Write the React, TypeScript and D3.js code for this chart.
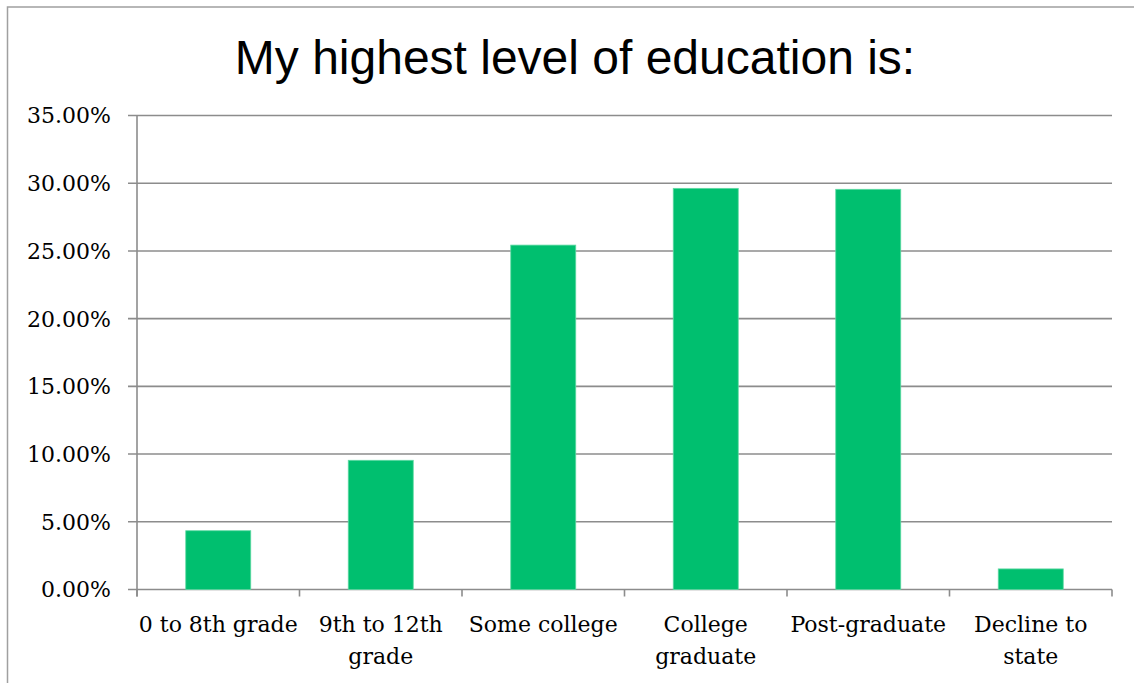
import React from 'react';
import { scaleLinear, scaleBand, range } from 'd3';

const categories: string[][] = [
  ['0 to 8th grade'],
  ['9th to 12th', 'grade'],
  ['Some college'],
  ['College', 'graduate'],
  ['Post-graduate'],
  ['Decline to', 'state'],
];
const shares: number[] = [4.34, 9.54, 25.43, 29.62, 29.55, 1.52];
const yTicks: number[] = [0, 5, 10, 15, 20, 25, 30, 35];

const width = 1134;
const height = 683;

const App: React.FC = () => {
  const left = 137;
  const right = 1112;
  const top = 115.5;
  const bottom = 589.5;

  const xScale = scaleBand<number>()
    .domain(range(categories.length))
    .range([left, right])
    .paddingInner(0.6)
    .paddingOuter(0.3);
  const slot = (right - left) / categories.length;
  const yScale = scaleLinear([0, 35], [bottom, top]);

  const grid = '#8c8c8c';
  const serif = "'DejaVu Serif', 'Liberation Serif', serif";

  return (
    <svg width={width} height={height} style={{ position: 'absolute', left: 0, top: 0 }}>
      <rect x={0} y={0} width={width} height={height} fill="#fff" />
      {/* outer chart frame, runs off the page on the right and bottom */}
      <rect x={7.5} y={7} width={width + 20} height={height + 20} fill="none" stroke="#a0a0a0" strokeWidth={1.5} />
      <text x={575} y={74} textAnchor="middle" fontFamily="'Liberation Sans', Arial, sans-serif" fontSize={48} fill="#000">
        My highest level of education is:
      </text>

      {yTicks.map(t => (
        <g key={t}>
          <line x1={left - 9} x2={right} y1={yScale(t)} y2={yScale(t)} stroke={grid} strokeWidth={1.6} />
          <text x={111} y={yScale(t)} dy="0.36em" textAnchor="end" fontFamily={serif} fontSize={22} fill="#000">
            {t.toFixed(2)}%
          </text>
        </g>
      ))}
      <line x1={left} x2={left} y1={top} y2={bottom + 7} stroke={grid} strokeWidth={1.6} />
      {range(categories.length + 1).map(i => (
        <line key={i} x1={left + i * slot} x2={left + i * slot} y1={bottom} y2={bottom + 7} stroke={grid} strokeWidth={1.6} />
      ))}

      {shares.map((v, i) => (
        <rect
          key={i}
          x={xScale(i)}
          y={yScale(v)}
          width={xScale.bandwidth()}
          height={bottom - yScale(v)}
          fill="#00bf6f"
          stroke="#5fd9a3"
          strokeWidth={0.8}
        />
      ))}

      {categories.map((lines, i) => (
        <text key={i} textAnchor="middle" fontFamily={serif} fontSize={22} fill="#000">
          {lines.map((l, j) => (
            <tspan key={j} x={left + (i + 0.5) * slot} y={632 + j * 32}>{l}</tspan>
          ))}
        </text>
      ))}
    </svg>
  );
};

export default App;
